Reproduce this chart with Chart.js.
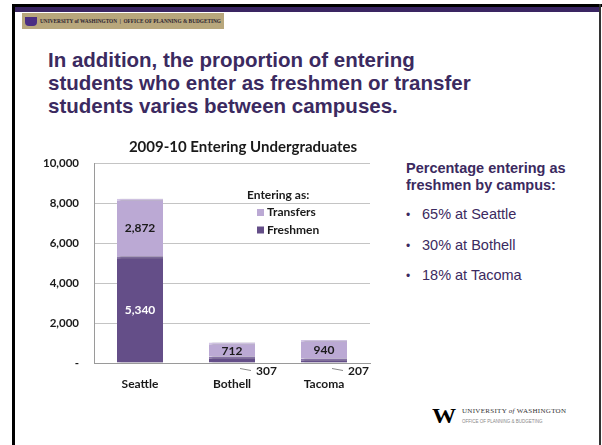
<!DOCTYPE html>
<html>
<head>
<meta charset="utf-8">
<script src="https://cdn.jsdelivr.net/npm/chart.js@4"></script>
<style>
  html, body { margin: 0; padding: 0; background: #fff; }
  body { width: 602px; height: 445px; position: relative; overflow: hidden; font-family: "Liberation Sans", Arial, sans-serif; }
  .frameL { position: absolute; left: 12px; top: 4px; width: 3px; height: 441px; background: #000; }
  .frameT { position: absolute; left: 12px; top: 4px; width: 590px; height: 3px; background: #000; }
  .frameP { position: absolute; left: 15px; top: 7px; width: 585px; height: 5px; background: #3a2562; }
  .frameR { position: absolute; left: 599px; top: 4px; width: 2px; height: 441px; background: #333; }
  .hdr { position: absolute; left: 22px; top: 13px; width: 202px; height: 16px; background: #b8a77c;
         font: bold 5.3px "Liberation Serif", serif; color: #2a2230; line-height: 16px; white-space: nowrap; overflow: hidden; }
  .hdr .w { display: inline-block; width: 12px; height: 9px; background: #4b2e83; vertical-align: middle; margin: 0 3px 0 3px; border-radius: 0 0 4px 4px; }
  h1 { position: absolute; left: 48px; top: 48px; margin: 0; font: bold 20.5px/23px "Liberation Sans", Arial, sans-serif; color: #3b2a60; }
  .side { position: absolute; left: 406px; top: 160px; color: #3b2a60; font-size: 14.5px; }
  .side b { display: block; line-height: 17px; }
  .side ul { margin: 6px 0 0 0; padding: 0; list-style: none; }
  .side li { line-height: 29.5px; font-size: 14.5px; }
  .side li span { display: inline-block; width: 16px; font-size: 12px; }
  #wrap { position: absolute; left: 40px; top: 136px; width: 340px; height: 260px; }
  .logo { position: absolute; left: 432px; top: 406px; white-space: nowrap; }
  .logo .W { position: absolute; left: 0; top: 0; font: bold 21px/20px "Liberation Serif", serif; color: #000; letter-spacing: -3px; transform: scaleX(1.15); transform-origin: left; }
  .logo .u { position: absolute; left: 30px; top: 1px; font: 7px "Liberation Serif", serif; color: #333; letter-spacing: 0.3px; }
  .logo .o { position: absolute; left: 30px; top: 13px; font: 4.5px "Liberation Sans", sans-serif; color: #888; }
</style>
</head>
<body>
<div class="frameL"></div><div class="frameT"></div><div class="frameP"></div><div class="frameR"></div>
<div class="hdr"><span class="w"></span>UNIVERSITY of WASHINGTON &nbsp;|&nbsp; OFFICE OF PLANNING &amp; BUDGETING</div>
<h1>In addition, the proportion of entering<br>students who enter as freshmen or transfer<br>students varies between campuses.</h1>
<div class="side">
  <b>Percentage entering as<br>freshmen by campus:</b>
  <ul>
    <li><span>•</span>65% at Seattle</li>
    <li><span>•</span>30% at Bothell</li>
    <li><span>•</span>18% at Tacoma</li>
  </ul>
</div>
<div id="wrap"><canvas id="entering" width="340" height="260"></canvas></div>
<div class="logo"><span class="W">W</span><span class="u">UNIVERSITY <i>of</i> WASHINGTON</span><span class="o">OFFICE OF PLANNING &amp; BUDGETING</span></div>
<script>
// 2009-10 entering undergraduates by campus
const campuses = ['Seattle', 'Bothell', 'Tacoma']
const freshmen = [5340, 307, 207]
const transfers = [2872, 712, 940]
const seriesNames = ['Freshmen', 'Transfers']
const chartTitle = '2009-10 Entering Undergraduates'
const yMax = 10000
const yStep = 2000

const chartFont = 'Lato, "Open Sans", sans-serif'
const freshColor = '#644e88'
const transColor = '#bba9d4'

const fmt = v => v === 0 ? '-' : v.toLocaleString('en-US')

// soft shadow to the right of the bars, like the 3-D look of the original
const barShadow = {
  id: 'barShadow',
  beforeDatasetsDraw(chart) {
    const ctx = chart.ctx
    ctx.save()
    ctx.shadowColor = 'rgba(0,0,0,0.35)'
    ctx.shadowOffsetX = 3
    ctx.shadowOffsetY = 0
    ctx.shadowBlur = 2
  },
  afterDatasetsDraw(chart) {
    chart.ctx.restore()
  }
}

// title, value labels + legend drawn inside the plot
const barLabels = {
  id: 'barLabels',
  afterDraw(chart) {
    const ctx = chart.ctx
    const a = chart.chartArea
    ctx.save()
    ctx.textBaseline = 'middle'
    ctx.textAlign = 'center'
    ctx.fillStyle = '#1a1a1a'
    ctx.font = 'bold 15px ' + chartFont
    ctx.fillText(chartTitle, (a.left + a.right) / 2 + 11, a.top - 16)

    ctx.font = 'bold 12px ' + chartFont
    chart.data.datasets.forEach((ds, di) => {
      chart.getDatasetMeta(di).data.forEach((bar, i) => {
        const v = ds.data[i]
        const h = bar.base - bar.y
        if (h >= 12) {
          ctx.textAlign = 'center'
          ctx.fillStyle = di === 0 ? '#ffffff' : '#1a1a1a'
          ctx.fillText(fmt(v), bar.x, (bar.y + bar.base) / 2 + 1)
        } else {
          // leader line for small values under the bar
          ctx.strokeStyle = '#888'
          ctx.lineWidth = 1
          ctx.beginPath()
          ctx.moveTo(bar.x + 8, bar.base + 6)
          ctx.lineTo(bar.x + 19, bar.base + 8)
          ctx.stroke()
          ctx.textAlign = 'left'
          ctx.fillStyle = '#1a1a1a'
          ctx.fillText(fmt(v), bar.x + 24, bar.base + 9)
        }
      })
    })
    // legend
    const lx = a.left + 163, ly = a.top + 32
    ctx.textAlign = 'left'
    ctx.fillStyle = '#1a1a1a'
    ctx.fillText('Entering as:', lx - 10, ly)
    const items = [[seriesNames[1], transColor], [seriesNames[0], freshColor]]
    items.forEach((it, k) => {
      const y = ly + 17.5 * (k + 1)
      ctx.fillStyle = it[1]
      ctx.fillRect(lx, y - 3.5, 7, 7)
      ctx.fillStyle = '#1a1a1a'
      ctx.fillText(it[0], lx + 10, y)
    })
    ctx.restore()
  }
}

new Chart(document.getElementById('entering').getContext('2d'), {
  type: 'bar',
  data: {
    labels: campuses,
    datasets: [{
      label: seriesNames[0],
      data: freshmen,
      backgroundColor: freshColor,
      borderColor: '#8a76ab',
      borderWidth: { top: 2, left: 0, right: 0, bottom: 0 },
      borderSkipped: false
    }, {
      label: seriesNames[1],
      data: transfers,
      backgroundColor: transColor,
      borderColor: '#d3c6e6',
      borderWidth: { top: 2, left: 0, right: 0, bottom: 0 },
      borderSkipped: false
    }]
  },
  options: {
    responsive: false,
    animation: false,
    categoryPercentage: 1,
    barPercentage: 0.5,
    layout: { padding: { left: 0, right: 10, top: 27, bottom: 0 } },
    scales: {
      x: {
        stacked: true,
        grid: { display: false, drawTicks: false },
        border: { display: true, color: '#9a9a9a' },
        ticks: { color: '#1a1a1a', font: { family: chartFont, size: 12, weight: 'bold' }, padding: 14 },
        afterFit: s => { s.height = 33 }
      },
      y: {
        stacked: true,
        min: 0,
        max: yMax,
        ticks: { stepSize: yStep, callback: v => fmt(v), color: '#1a1a1a', font: { family: chartFont, size: 11.5, weight: 'bold' }, padding: 15 },
        grid: { color: '#c4c4c4', drawTicks: false },
        border: { display: true, color: '#9a9a9a' },
        afterFit: s => { s.width = 54 }
      }
    },
    plugins: {
      legend: { display: false },
      tooltip: { enabled: false },
      title: { display: false }
    }
  },
  plugins: [barShadow, barLabels]
})
</script>
</body>
</html>
